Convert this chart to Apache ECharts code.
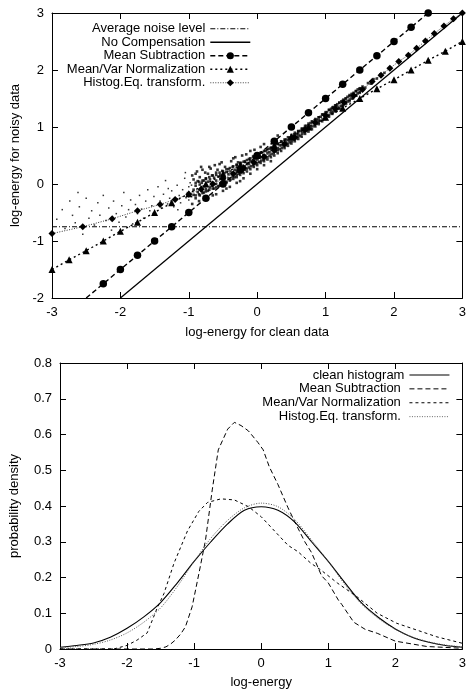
<!DOCTYPE html>
<html>
<head>
<meta charset="utf-8">
<script src="https://cdn.jsdelivr.net/npm/echarts@6/dist/echarts.min.js"></script>
<style>html,body{margin:0;padding:0;background:#fff}#c{width:469px;height:695px}</style>
</head>
<body>
<div id="c"></div>
<script>
// ---------- Top chart data ----------
const noiseLevelX = [-3, 3];
const noiseLevelY = [-0.75, -0.75];
const noCompX = [-2, 3];
const noCompY = [-2, 3];
const meanSubX = [-2.5,-2.25,-2,-1.75,-1.5,-1.25,-1,-0.75,-0.5,-0.25,0,0.25,0.5,0.75,1,1.25,1.5,1.75,2,2.25,2.5];
const meanSubY = [-2,-1.75,-1.5,-1.25,-1,-0.75,-0.5,-0.25,0,0.25,0.5,0.75,1,1.25,1.5,1.75,2,2.25,2.5,2.75,3];
const mvnX = [-3,-2.75,-2.5,-2.25,-2,-1.75,-1.5,-1.25,-1,-0.75,-0.5,-0.25,0,0.25,0.5,0.75,1,1.25,1.5,1.75,2,2.25,2.5,2.75,3];
const mvnY = [-1.5,-1.33,-1.17,-1,-0.83,-0.67,-0.5,-0.33,-0.17,0,0.17,0.33,0.5,0.67,0.83,1,1.17,1.33,1.5,1.67,1.83,2,2.17,2.33,2.5];
const heqX = [-3,-2.55,-2.12,-1.75,-1.42,-1.2,-1,-0.82,-0.65,-0.5,-0.35,-0.2,-0.05,0.1,0.25,0.4,0.55,0.7,0.85,1,1.14,1.27,1.41,1.54,1.68,1.81,1.94,2.07,2.21,2.33,2.46,2.59,2.73,2.87,3];
const heqY = [-0.87,-0.75,-0.61,-0.47,-0.36,-0.27,-0.18,-0.09,0,0.09,0.18,0.28,0.38,0.48,0.59,0.7,0.82,0.95,1.08,1.2,1.32,1.43,1.55,1.66,1.8,1.91,2.03,2.15,2.26,2.38,2.51,2.64,2.77,2.9,3];
const noisyScatter = [
[-2.93,-0.62],[-2.85,-0.45],[-2.81,-0.78],[-2.74,-0.3],[-2.7,-0.55],[-2.66,-0.68],[-2.6,-0.4],[-2.55,-0.88],[-2.5,-0.25],[-2.46,-0.6],
[-2.42,-0.47],[-2.38,-0.72],[-2.33,-0.33],[-2.3,-0.55],[-2.25,-0.2],[-2.21,-0.64],[-2.17,-0.42],[-2.13,-0.81],[-2.1,-0.3],[-2.06,-0.52],
[-2.02,-0.67],[-1.98,-0.38],[-1.95,-0.15],[-1.92,-0.58],[-1.88,-0.45],[-1.85,-0.28],[-1.82,-0.7],[-1.78,-0.36],[-1.75,-0.52],[-1.72,-0.2],
[-1.69,-0.44],[-1.66,-0.6],[-1.63,-0.3],[-1.6,-0.1],[-1.57,-0.47],[-1.54,-0.38],[-1.51,-0.22],[-1.48,-0.55],[-1.45,-0.05],[-1.42,-0.3],
[-1.4,-0.42],[-1.37,-0.18],[-1.34,0.06],[-1.31,-0.35],[-1.28,-0.25],[-1.25,-0.12],[-1.22,-0.4],[-1.2,-0.3],[-1.17,-0.02],[-1.14,-0.2],
[-1.12,-0.33],[-1.09,-0.1],[-1.06,0.1],[-1.04,-0.24],[-1.02,-0.15],[-1.05,0.2],[-0.9,0.18],[-0.8,0.25],[-0.7,0.3],[-0.55,0.35],
[-0.35,0.45],[-0.65,-0.2],[-0.45,-0.08],[-0.25,0.05],[0.1,0.7],[0.3,0.85],[-1.3,-0.08],[-1.16,-0.45],[-0.98,0.02],[-2.62,-0.15],
[-1,-0.05],[-1,-0.28],[-1,-0.15],[-0.96,-0.02],[-0.96,-0.22],[-0.93,0.08],[-0.93,-0.19],[-0.93,-0.1],[-0.9,-0.03],[-0.9,-0.25],
[-0.87,0.05],[-0.87,-0.14],[-0.84,-0.01],[-0.84,-0.2],[-0.84,0.12],[-0.81,-0.12],[-0.81,0.02],[-0.78,0.06],[-0.78,-0.15],[-0.78,-0.04],
[-0.75,0.1],[-0.75,-0.09],[-0.72,-0.12],[-0.72,0.04],[-0.72,0.18],[-0.69,-0.06],[-0.69,0.08],[-0.66,0.15],[-0.66,-0.03],[-0.66,0.02],
[-0.63,-0.08],[-0.63,0.11],[-0.6,0],[-0.6,0.2],[-0.6,0.06],[-0.57,-0.04],[-0.57,0.13],[-0.54,0.01],[-0.54,0.16],[-0.54,0.09],
[-0.51,0.23],[-0.51,0.03],[-0.48,0.05],[-0.48,0.14],[-0.48,0.19],[-0.45,0.02],[-0.45,0.21],[-0.42,0.1],[-0.42,0.26],[-0.42,0.17],
[-0.39,0.08],[-0.39,0.22],[-0.36,0.13],[-0.36,0.3],[-0.36,0.19],[-0.33,0.12],[-0.33,0.25],[-0.3,0.16],[-0.3,0.34],[-0.3,0.23],
[-0.27,0.18],[-0.27,0.29],[-0.24,0.2],[-0.24,0.37],[-0.24,0.27],[-0.21,0.22],[-0.21,0.32],[-0.18,0.25],[-0.18,0.4],[-0.18,0.31],
[-0.15,0.27],[-0.15,0.36],[-0.12,0.29],[-0.12,0.44],[-0.12,0.35],[-0.09,0.31],[-0.09,0.4],[-0.06,0.33],[-0.06,0.48],[-0.06,0.39],
[-0.03,0.35],[-0.03,0.44],[0,0.37],[0,0.52],[0,0.43],[0.03,0.39],[0.03,0.47],[0.06,0.41],[0.06,0.55],[0.06,0.47],
[0.09,0.43],[0.09,0.51],[0.12,0.45],[0.12,0.58],[0.12,0.5],[0.15,0.47],[0.15,0.55],[0.18,0.5],[0.18,0.62],[0.18,0.56],
[0.21,0.52],[0.21,0.6],[0.24,0.54],[0.24,0.66],[0.24,0.59],[0.27,0.57],[0.27,0.64],[0.3,0.59],[0.3,0.7],[0.3,0.63],
[0.33,0.61],[0.33,0.68],[0.36,0.63],[0.36,0.74],[0.36,0.68],[0.39,0.66],[0.39,0.72],[0.42,0.68],[0.42,0.78],[0.42,0.73],
[0.45,0.71],[0.45,0.77],[0.48,0.73],[0.48,0.82],[0.48,0.77],[0.51,0.75],[0.51,0.83],[0.54,0.78],[0.54,0.87],[0.54,0.82],
[0.57,0.8],[0.57,0.88],[0.6,0.83],[0.6,0.92],[0.6,0.87],[0.63,0.85],[0.63,0.93],[0.66,0.88],[0.66,0.97],[0.66,0.92],
[0.69,0.91],[0.69,0.98],[0.72,0.93],[0.72,1.02],[0.72,0.97],[0.75,0.96],[0.75,1.03],[0.78,0.98],[0.78,1.07],[0.78,1.02],
[0.81,1.01],[0.81,1.08],[0.84,1.03],[0.84,1.12],[0.84,1.07],[0.87,1.06],[0.87,1.13],[0.9,1.08],[0.9,1.17],[0.9,1.12],
[0.93,1.11],[0.93,1.18],[0.96,1.13],[0.96,1.22],[0.99,1.16],[0.99,1.23],[0.99,1.2],[1.02,1.19],[1.02,1.26],[1.05,1.21],
[1.05,1.3],[1.08,1.24],[1.08,1.32],[1.08,1.28],[1.11,1.27],[1.11,1.35],[1.14,1.29],[1.14,1.38],[1.17,1.32],[1.17,1.4],
[1.17,1.36],[1.2,1.34],[1.2,1.43],[1.23,1.37],[1.23,1.45],[1.26,1.4],[1.26,1.48],[1.26,1.44],[1.29,1.43],[1.29,1.5],
[1.32,1.45],[1.32,1.53],[1.35,1.48],[1.35,1.56],[1.38,1.5],[1.38,1.58],[1.41,1.53],[1.41,1.6],[1.44,1.56],[1.44,1.63],
[1.47,1.59],[1.47,1.66],[1.5,1.62],[1.5,1.68],[1.54,1.65],[1.54,1.71],[1.58,1.69],[1.62,1.77],[1.66,1.76],[1.7,1.84],
[1.75,1.85],[1.8,1.92],[1.86,1.95],[1.93,2.03],
[-0.9,0.02],[-0.9,-0.2],[-0.85,0.04],[-0.85,-0.18],[-0.8,0.06],[-0.8,-0.16],[-0.75,0.09],[-0.75,-0.13],[-0.7,0.12],[-0.7,-0.1],
[-0.65,0.15],[-0.65,-0.08],[-0.6,0.16],[-0.6,-0.06],[-0.55,0.2],[-0.55,-0.03],[-0.5,0.22],[-0.5,0],[-0.45,0.26],[-0.45,0.04],
[-0.4,0.28],[-0.4,0.06],[-0.35,0.31],[-0.35,0.09],[-0.3,0.33],[-0.3,0.12],[-0.25,0.37],[-0.25,0.16],[-0.2,0.39],[-0.2,0.19],
[-0.15,0.42],[-0.15,0.22],[-0.1,0.45],[-0.1,0.26],[-0.05,0.49],[-0.05,0.3],[0,0.51],[0,0.33],[0.05,0.55],[0.05,0.37],
[0.1,0.58],[0.1,0.4],[0.15,0.61],[0.15,0.43],[0.2,0.64],[0.2,0.47],[0.25,0.67],[0.25,0.5],[0.3,0.71],[0.3,0.54],
[0.35,0.75],[0.35,0.58],[0.4,0.78],[0.4,0.63],[0.45,0.82],[0.45,0.67],[0.5,0.86],[0.5,0.71],[0.55,0.9],[0.55,0.75],
[0.6,0.93],[0.6,0.79],[0.65,0.97],[0.65,0.83],[0.7,1.02],[0.7,0.88],[0.75,1.06],[0.75,0.92],[0.8,1.1],[0.8,0.96],
[0.85,1.14],[0.85,1.01],[0.9,1.17],[0.9,1.05],[0.95,1.22],[0.95,1.1],[1,1.26],[1,1.14],[1.05,1.3],[1.05,1.18],
[1.1,1.34],[1.1,1.23],[1.15,1.38],[1.15,1.27],[1.2,1.42],[1.2,1.32],[1.25,1.46],[1.25,1.37],[1.3,1.5],[1.3,1.41],
[1.35,1.54],[1.35,1.45],[1.4,1.58],[1.4,1.5],[1.45,1.63],[1.45,1.55],[1.5,1.67],[1.5,1.6],
[-0.95,0.15],[-0.88,0.22],[-0.82,0.3],[-0.76,0.2],[-0.68,0.27],[-0.62,0.33],[-0.58,0.25],[-0.52,0.38],[-0.47,0.3],[-0.38,0.4],
[-0.32,0.47],[-0.28,0.38],[-0.22,0.5],[-0.16,0.52],[-0.1,0.58],[-0.04,0.6],[0.05,0.65],
[-0.95,-0.35],[-0.85,-0.3],[-0.72,-0.25],[-0.6,-0.18],[-0.5,-0.12],[-0.4,-0.05],[-0.3,0.02],[-0.2,0.1],[-0.1,0.18],[0,0.26],
[0.1,0.33],[0.2,0.4]
];

// ---------- Bottom chart data ----------
const binX = [-3,-2.75,-2.5,-2.25,-2,-1.75,-1.5,-1.25,-1,-0.75,-0.5,-0.25,0,0.25,0.5,0.75,1,1.25,1.5,1.75,2,2.25,2.5,2.75,3];
const cleanPdf = [0.005,0.01,0.017,0.033,0.058,0.09,0.13,0.185,0.245,0.3,0.35,0.388,0.398,0.388,0.355,0.3,0.245,0.185,0.128,0.088,0.056,0.033,0.019,0.01,0.005];
const heqPdf = [0.004,0.007,0.013,0.025,0.045,0.075,0.115,0.175,0.245,0.31,0.36,0.395,0.408,0.398,0.362,0.305,0.245,0.18,0.125,0.085,0.055,0.034,0.02,0.011,0.006];
const msX = [-3,-2,-1.6,-1.5,-1.42,-1.35,-1.28,-1.2,-1.13,-1.03,-0.93,-0.83,-0.73,-0.64,-0.5,-0.4,-0.3,-0.19,-0.05,0.03,0.12,0.25,0.4,0.5,0.65,0.75,0.9,1,1.15,1.2,1.38,1.55,1.73,2,2.47,3];
const msPdf = [0,0,0,0.002,0.006,0.014,0.025,0.042,0.062,0.118,0.21,0.305,0.445,0.557,0.615,0.634,0.625,0.61,0.578,0.557,0.51,0.46,0.395,0.356,0.3,0.27,0.205,0.185,0.137,0.125,0.075,0.055,0.044,0.022,0.007,0.002];
const mvX = [-3,-2.2,-2,-1.85,-1.7,-1.55,-1.45,-1.3,-1.1,-0.93,-0.8,-0.6,-0.4,-0.19,0,0.2,0.4,0.55,0.74,0.89,1.14,1.43,1.73,2.02,2.32,2.62,3];
const mvPdf = [0,0,0.01,0.025,0.045,0.115,0.155,0.24,0.33,0.385,0.41,0.42,0.417,0.398,0.37,0.33,0.29,0.272,0.24,0.221,0.184,0.146,0.1,0.072,0.053,0.034,0.016];

// ---------- styling ----------
const FONT = '"Liberation Sans", Arial, Helvetica, sans-serif';
const txt = {fontFamily: FONT, fontSize: 13, color: '#000'};
const pairs = (xs, ys) => xs.map((x, i) => [x, ys[i]]);

function axis(grid, pos, min, max, interval, name, gap) {
  return {
    gridIndex: grid, type: 'value', position: pos, min, max, interval,
    name: name || '', nameLocation: 'middle', nameGap: gap || 0, nameTextStyle: txt,
    axisLine: {onZero: false, lineStyle: {color: '#000', width: 1}},
    axisTick: {inside: true, length: 6, lineStyle: {color: '#000'}},
    axisLabel: Object.assign({show: !!name, margin: 8}, txt),
    splitLine: {show: false}
  };
}

const DASHDOT = [5, 2, 1, 2];
const DASH = [5, 3];
const DOT = [2, 3];
const FINEDOT = [1, 1.5];
const SHORTDASH = [3, 3];

function lineSeries(name, data, xi, yi, lw, dash, color, symbol, size) {
  return {
    name, type: 'line', xAxisIndex: xi, yAxisIndex: yi, data,
    symbol: symbol || 'none', symbolSize: size || 0, showSymbol: !!symbol, showAllSymbol: true,
    lineStyle: {color: color, width: lw, type: dash},
    itemStyle: {color: '#000'},
    clip: true, animation: false, z: 3
  };
}

const msData = pairs(meanSubX, meanSubY).map((p, i) => i === 0 ? {value: p, symbol: 'none'} : p);

const option = {
  animation: false,
  backgroundColor: '#fff',
  grid: [
    {left: 52, right: 3, top: 13, height: 285},
    {left: 60, right: 3, top: 363, height: 286}
  ],
  xAxis: [
    axis(0, 'bottom', -3, 3, 1, 'log-energy for clean data', 28),
    axis(0, 'top', -3, 3, 1),
    axis(1, 'bottom', -3, 3, 1, 'log-energy', 27),
    axis(1, 'top', -3, 3, 1)
  ],
  yAxis: [
    axis(0, 'left', -2, 3, 1, 'log-energy for noisy data', 30),
    axis(0, 'right', -2, 3, 1),
    axis(1, 'left', 0, 0.8, 0.1, 'probability density', 39),
    axis(1, 'right', 0, 0.8, 0.1)
  ],
  legend: [
    {
      orient: 'vertical', align: 'right', right: 218, top: 22, padding: 0,
      itemWidth: 40, itemHeight: 9, itemGap: 0,
      textStyle: Object.assign({lineHeight: 13.5}, txt),
      data: [
        {name: 'Average noise level', itemStyle: {opacity: 0}, lineStyle: {width: 1, type: DASHDOT, color: '#000'}},
        {name: 'No Compensation', itemStyle: {opacity: 0}, lineStyle: {width: 1.3, type: 'solid', color: '#000'}},
        {name: 'Mean Subtraction', lineStyle: {width: 1.4, type: DASH, color: '#000'}},
        {name: 'Mean/Var Normalization', lineStyle: {width: 1.4, type: DOT, color: '#000'}},
        {name: 'Histog.Eq. transform.', lineStyle: {width: 1, type: FINEDOT, color: '#444'}}
      ]
    },
    {
      orient: 'vertical', align: 'right', right: 19, top: 368, padding: 0,
      itemWidth: 40, itemHeight: 9, itemGap: 0,
      textStyle: Object.assign({lineHeight: 13.9}, txt),
      data: [
        {name: 'clean histogram', itemStyle: {opacity: 0}, lineStyle: {width: 1.1, type: 'solid', color: '#000'}},
        {name: 'Mean Subtraction ', itemStyle: {opacity: 0}, lineStyle: {width: 1, type: DASH, color: '#000'}},
        {name: 'Mean/Var Normalization ', itemStyle: {opacity: 0}, lineStyle: {width: 1, type: SHORTDASH, color: '#000'}},
        {name: 'Histog.Eq. transform. ', itemStyle: {opacity: 0}, lineStyle: {width: 1, type: FINEDOT, color: '#666'}}
      ]
    }
  ],
  series: [
    {
      name: 'noisy data', type: 'scatter', xAxisIndex: 0, yAxisIndex: 0, data: noisyScatter,
      symbol: 'rect', symbolSize: (v) => (v[0] < -0.95 ? 1.5 : 2.6),
      itemStyle: {color: '#000'}, silent: true, z: 1, animation: false
    },
    lineSeries('Average noise level', pairs(noiseLevelX, noiseLevelY), 0, 0, 1, DASHDOT, '#000'),
    lineSeries('No Compensation', pairs(noCompX, noCompY), 0, 0, 1.3, 'solid', '#000'),
    lineSeries('Mean Subtraction', msData, 0, 0, 1.4, DASH, '#000', 'circle', 7.5),
    lineSeries('Mean/Var Normalization', pairs(mvnX, mvnY), 0, 0, 1.4, DOT, '#000', 'triangle', 7),
    lineSeries('Histog.Eq. transform.', pairs(heqX, heqY), 0, 0, 1, FINEDOT, '#333', 'diamond', 7),

    Object.assign(lineSeries('clean histogram', pairs(binX, cleanPdf), 2, 2, 1.1, 'solid', '#000'), {smooth: 0.3}),
    lineSeries('Mean Subtraction ', pairs(msX, msPdf), 2, 2, 1, DASH, '#000'),
    lineSeries('Mean/Var Normalization ', pairs(mvX, mvPdf), 2, 2, 1, SHORTDASH, '#000'),
    Object.assign(lineSeries('Histog.Eq. transform. ', pairs(binX, heqPdf), 2, 2, 1, FINEDOT, '#555'), {smooth: 0.3})
  ]
};

const chart = echarts.init(document.getElementById('c'), null, {renderer: 'canvas'});
chart.setOption(option);
</script>
</body>
</html>
